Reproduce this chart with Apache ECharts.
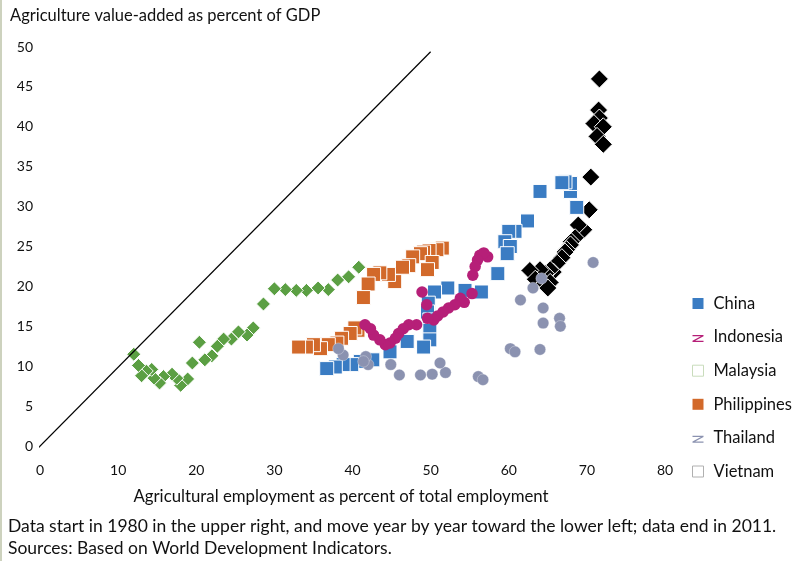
<!DOCTYPE html>
<html>
<head>
<meta charset="utf-8">
<script src="https://cdn.jsdelivr.net/npm/echarts@6/dist/echarts.min.js"></script>
<style>
html,body{margin:0;padding:0;background:#fff;}
#c{width:807px;height:561px;}
</style>
</head>
<body>
<div id="c"></div>
<script>
// Data: [agricultural employment %, agriculture value-added % of GDP]
const china = [[68.7,29.9],[67.9,31.9],[67.9,32.9],[67.2,33.1],[66.8,33.0],[64.0,31.9],[62.4,28.2],[60.8,26.9],[60.0,26.9],[59.5,25.6],[60.2,25.0],[59.8,24.1],[58.6,21.6],[56.5,19.3],[54.4,19.5],[52.2,19.8],[50.5,19.3],[49.7,17.9],[49.6,16.8],[49.9,15.8],[49.9,14.5],[49.9,13.3],[49.1,12.4],[47.0,13.1],[44.8,11.8],[42.6,10.8],[41.0,10.6],[39.9,10.2],[38.8,10.2],[37.8,9.9],[36.7,9.7]];
const indonesia = [[56.3,23.9],[57.3,23.7],[56.8,24.2],[56.0,23.3],[55.7,22.5],[55.4,21.4],[55.3,19.1],[54.3,18.0],[53.8,18.5],[53.1,17.7],[52.3,17.3],[51.6,16.8],[50.9,16.3],[50.4,15.8],[48.9,19.3],[49.5,17.7],[49.6,16.0],[48.2,15.2],[47.2,15.2],[46.5,14.7],[45.9,14.1],[45.5,13.5],[44.8,12.9],[44.2,12.7],[43.5,13.3],[42.7,13.9],[42.3,14.7],[41.6,15.2]];
const malaysia = [[40.8,22.4],[39.5,21.2],[38.1,20.8],[36.9,19.6],[35.6,19.8],[34.1,19.5],[32.8,19.5],[31.4,19.6],[30.0,19.7],[28.6,17.8],[27.3,14.8],[26.5,13.9],[25.4,14.3],[24.5,13.4],[23.5,13.4],[22.7,12.5],[22.0,11.3],[21.1,10.8],[20.4,13.0],[19.5,10.4],[18.9,8.4],[18.0,7.6],[17.5,8.5],[16.9,9.0],[15.8,8.7],[15.3,7.9],[14.6,8.5],[14.3,9.6],[13.6,9.4],[13.0,8.8],[12.6,10.1],[12.0,11.5]];
const philippines = [[51.5,24.8],[50.8,24.6],[49.8,24.5],[49.1,24.3],[48.7,24.1],[50.2,23.0],[49.6,22.1],[47.7,23.7],[47.2,22.6],[46.4,22.4],[45.4,20.6],[44.6,21.5],[43.5,21.7],[42.7,21.5],[42.0,20.3],[41.4,18.6],[40.7,14.5],[40.3,14.8],[39.7,14.1],[38.6,13.5],[38.0,12.9],[36.9,12.7],[35.9,12.2],[35.0,12.7],[34.1,12.4],[33.1,12.4]];
const thailand = [[70.8,23.0],[66.5,16.0],[66.6,15.0],[64.4,17.3],[64.4,15.4],[64.2,21.0],[63.1,19.8],[61.5,18.3],[64.0,12.1],[60.2,12.2],[60.8,11.8],[56.1,8.7],[56.7,8.3],[51.9,9.2],[51.2,10.4],[50.2,9.0],[48.7,8.9],[46.0,8.9],[44.9,10.2],[42.0,10.2],[41.7,11.2],[41.4,10.6],[38.8,11.4],[38.2,12.2]];
const vietnam = [[71.6,46.0],[71.5,42.1],[71.6,41.1],[70.9,40.4],[72.1,40.0],[71.3,38.8],[72.1,37.8],[70.5,33.7],[70.3,29.6],[69.6,27.1],[68.9,27.7],[68.5,26.1],[68.0,25.6],[67.9,25.2],[67.4,24.6],[67.2,24.3],[66.8,23.6],[66.2,22.9],[65.7,21.8],[65.3,22.1],[64.7,21.6],[64.0,22.1],[62.7,22.0],[63.4,20.9],[64.6,20.4],[65.3,20.5],[65.0,19.8]];
const diagonal = [[-1,-1],[50,49.4]];
const legendNames = ['China','Indonesia','Malaysia','Philippines','Thailand','Vietnam'];

const FONT = 'Lato';
// z-shaped icon inside an 11x11 box (tiny corner marks fix the box size)
const zPath = 'path://M0,0 L0.05,0 L0.05,0.05 Z M10.95,0 L11,0 L11,0.05 Z M-0.5,3 L11.5,3 L11.5,4.5 L2.4,9.3 L11.5,9.3 L11.5,10.8 L-0.5,10.8 L-0.5,9.3 L8.6,4.5 L-0.5,4.5 Z';

const chart = echarts.init(document.getElementById('c'));
const white = {borderColor:'#ffffff', borderWidth:1, opacity:1};
chart.setOption({
  animation:false,
  textStyle:{fontFamily:FONT},
  grid:{left:40,right:142,top:47,bottom:115},
  xAxis:{type:'value',min:0,max:80,interval:10,
    axisLine:{show:false},axisTick:{show:false},splitLine:{show:false},
    axisLabel:{color:'#111',fontSize:14,margin:17,fontFamily:FONT}},
  yAxis:{type:'value',min:0,max:50,interval:5,
    axisLine:{show:false},axisTick:{show:false},splitLine:{show:false},
    axisLabel:{color:'#111',fontSize:14,margin:7,fontFamily:FONT}},
  legend:{orient:'vertical',left:687,top:289,itemWidth:11,itemHeight:11,itemGap:14.6,
    textStyle:{fontSize:16.5,color:'#111',lineHeight:19,fontFamily:FONT,padding:[0,0,0,5]},
    data:[
      {name:'China',icon:'rect',itemStyle:{color:'#3a7cc3',borderWidth:0}},
      {name:'Indonesia',icon:zPath,itemStyle:{color:'#b61f78',borderWidth:0}},
      {name:'Malaysia',icon:'rect',itemStyle:{color:'#ffffff',borderColor:'#c9dcbc',borderWidth:1}},
      {name:'Philippines',icon:'rect',itemStyle:{color:'#d2692a',borderWidth:0}},
      {name:'Thailand',icon:zPath,itemStyle:{color:'#8b92b0',borderWidth:0}},
      {name:'Vietnam',icon:'rect',itemStyle:{color:'#ffffff',borderColor:'#b0b0b0',borderWidth:1}}
    ]},
  series:[
    {type:'line',name:'diag',data:diagonal,symbol:'none',clip:false,silent:true,
      lineStyle:{color:'#000',width:1.2}},
    {type:'scatter',name:'Vietnam',data:vietnam,symbol:'diamond',symbolSize:18,
      itemStyle:Object.assign({color:'#000'},white)},
    {type:'scatter',name:'China',data:china,symbol:'rect',symbolSize:14,
      itemStyle:Object.assign({color:'#3a7cc3'},white)},
    {type:'scatter',name:'Philippines',data:philippines,symbol:'rect',symbolSize:14,
      itemStyle:Object.assign({color:'#d2692a'},white)},
    {type:'scatter',name:'Malaysia',data:malaysia,symbol:'diamond',symbolSize:14,
      itemStyle:Object.assign({color:'#5b9f43'},white)},
    {type:'scatter',name:'Indonesia',data:indonesia,symbol:'circle',symbolSize:11.5,
      itemStyle:{color:'#b61f78',opacity:1}},
    {type:'scatter',name:'Thailand',data:thailand,symbol:'circle',symbolSize:11.5,
      itemStyle:{color:'#8b92b0',borderColor:'rgba(255,255,255,0.6)',borderWidth:0.5,opacity:1}}
  ],
  graphic:[
    {type:'rect',left:0,top:0,shape:{width:2,height:561},style:{fill:'#cdd2be'}},
    {type:'text',left:10,top:7,style:{text:'Agriculture value-added as percent of GDP',fontSize:16.5,fontFamily:FONT,fill:'#111'}},
    {type:'text',x:341,y:497,style:{text:'Agricultural employment as percent of total employment',fontSize:16.8,fontFamily:FONT,fill:'#111',align:'center',verticalAlign:'middle'}},
    {type:'text',left:8,top:517,style:{text:'Data start in 1980 in the upper right, and move year by year toward the lower left; data end in 2011.',fontSize:17.5,fontFamily:FONT,fill:'#111'}},
    {type:'text',left:8,top:539,style:{text:'Sources: Based on World Development Indicators.',fontSize:17.5,fontFamily:FONT,fill:'#111'}}
  ]
});
</script>
</body>
</html>
